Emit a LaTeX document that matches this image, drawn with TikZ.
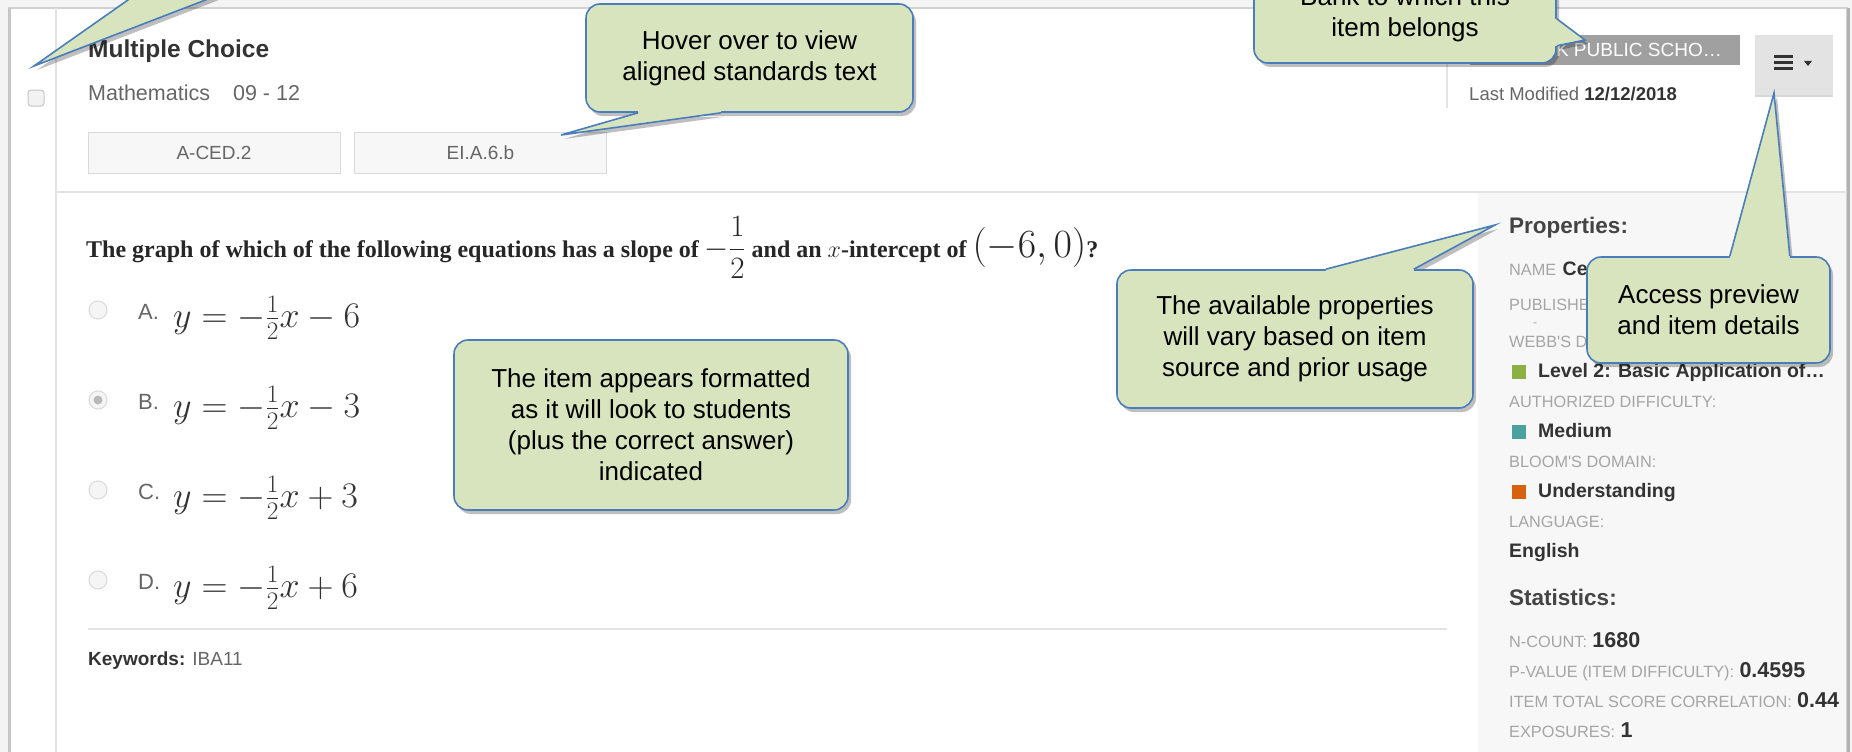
\RequirePackage{fix-cm}
\documentclass[tikz,border=0pt]{standalone}
\usepackage[no-math]{fontspec}
\setmainfont{Liberation Sans}
\newfontfamily\qfont{Liberation Serif}
\usetikzlibrary{calc,shadows}
\pgfdeclarelayer{bubbleshadow}
\pgfdeclarelayer{bubble}
\pgfsetlayers{main,bubbleshadow,bubble}
\definecolor{pagebg}{HTML}{F4F4F4}
\definecolor{panelbg}{HTML}{F7F7F7}
\definecolor{uidark}{HTML}{333333}
\definecolor{uihead}{HTML}{444444}
\definecolor{uigray}{HTML}{666666}
\definecolor{uilabel}{HTML}{A5A5A5}
\definecolor{badgegray}{HTML}{A0A0A0}
\definecolor{calloutfill}{HTML}{D7E4BD}
\definecolor{calloutline}{HTML}{4A7EBB}
\definecolor{dokgreen}{HTML}{8CB043}
\definecolor{dokteal}{HTML}{4AA19E}
\definecolor{dokorange}{HTML}{D6620F}
\begin{document}
\begin{tikzpicture}[x=1pt, y=-1pt,
		ui/.style={inner sep=0pt, anchor=base west, text=uidark},
		rule/.style={draw=gray!22, line width=1.5pt},
		title/.style={ui, font=\bfseries\fontsize{24.5}{28}\selectfont},
		meta/.style={ui, text=uigray, font=\fontsize{21.5}{25}\selectfont},
		tag/.style={draw=gray!30, fill=gray!6, line width=1pt, minimum width=252pt, minimum height=41pt, inner sep=0pt, text=uigray, font=\fontsize{19}{22}\selectfont},
		stemtext/.style={ui, text=black!85, font=\qfont\bfseries\fontsize{24}{28}\selectfont},
		radio/.style={circle, draw=gray!30, fill=gray!8, line width=1pt, minimum size=18pt, inner sep=0pt},
		letter/.style={ui, text=uigray, font=\fontsize{22}{26}\selectfont},
		answer/.style={ui, text=black!80, font=\fontsize{36}{40}\selectfont},
		phead/.style={ui, text=uihead, font=\bfseries\fontsize{22.5}{26}\selectfont},
		plabel/.style={ui, text=uilabel, font=\fontsize{16.3}{20}\selectfont},
		pvalue/.style={ui, font=\bfseries\fontsize{19.5}{23}\selectfont},
		svalue/.style={ui, font=\bfseries\fontsize{21.5}{25}\selectfont},
		swatch/.style={minimum size=14pt, inner sep=0pt},
		bubble/.style={draw=calloutline, fill=calloutfill, line width=1.6pt, rounded corners=14pt, inner sep=0pt, align=center, font=\fontsize{26}{31}\selectfont,
			drop shadow={shadow xshift=3pt, shadow yshift=-4pt, opacity=.25, fill=black}},
		bubble shade/.style={fill=black, opacity=.25, transform canvas={shift={(3pt,-4pt)}}},
		pointer/.style={draw=calloutline, line width=1.6pt, line join=miter}]
	\useasboundingbox (0,0) rectangle (1852,752);
	\fill[pagebg] (0,0) rectangle (1852,752);
	% card
	\draw[draw=gray!35, line width=1.5pt, fill=white] (9,8) rectangle (1847,790);
	\draw[line width=3pt, gray!45] (9.5,8) -- (9.5,752);
	\draw[line width=3pt, gray!60] (1848,8) -- (1848,752);
	\draw[rule] (56,8) -- (56,752);
	\draw[rule] (56,192) -- (1847,192);
	\fill[panelbg] (1478,193) rectangle (1846,752);

	% header
	\node[draw=gray!45, fill=gray!10, line width=1pt, rounded corners=3pt, minimum size=16pt, inner sep=0pt] (check) at (36,98) {};
	\node[title] (kind) at (88,58) {Multiple Choice};
	\node[meta] (subject) at (88,100) {Mathematics\hspace{23pt}09 - 12};
	\node[tag] (ced) at (214,152.5) {A-CED.2};
	\node[tag] (eia) at (480.5,152.5) {EI.A.6.b};
	\draw[rule] (1447,20) -- (1447,108);
	\node[fill=badgegray, minimum width=270pt, minimum height=30pt, inner sep=0pt] (badge) at (1605,50) {};
	\node[ui, anchor=base east, text=white, font=\fontsize{19}{22}\selectfont] (badgetext) at (1722,57) {K PUBLIC SCHO\ldots};
	\node[ui, text=uigray, font=\fontsize{18.5}{22}\selectfont] (modified) at (1469,100) {Last Modified \textcolor{uidark}{\bfseries 12/12/2018}};
	\node[fill=gray!22, minimum width=78pt, minimum height=60pt, inner sep=0pt,
		drop shadow={shadow xshift=0pt, shadow yshift=-2pt, opacity=.3}] (menu) at (1794,65) {};
	\foreach \y in {57,63,69}
		\draw[line width=3pt, uidark] (1774,\y) -- (1793,\y);
	\fill[uidark] (1804,61) -- (1812,61) -- (1808,66) -- cycle;

	% question
	\node[stemtext] (stem) at (86,257) {The graph of which of the following equations has a slope of {\fontsize{31}{33}\selectfont$-\displaystyle\frac{1}{2}$} and an $x$-intercept of {\fontsize{40}{42}\selectfont$(-6,0)$}?};
	\foreach \y/\l/\s/\c in {327/A/-/6, 417/B/-/3, 507/C/+/3, 597/D/+/6} {
		\node[radio] (radio\l) at (98,\y-17) {};
		\node[letter] (letter\l) at (138,\y-8) {\l.};
		\node[answer] (answer\l) at (173,\y) {$y=-\frac{1}{2}x\s\c$};
	}
	\fill[gray!55] (radioB) circle (4.5);
	\draw[rule] (88,629) -- (1447,629);
	\node[ui, font=\fontsize{19}{22}\selectfont] (keywords) at (88,665) {\textbf{Keywords:} \textcolor{uigray}{IBA11}};

	% properties panel
	\begin{scope}
		\clip (1478,193) rectangle (1845,752);
		\node[phead] (propshead) at (1509,233) {Properties:};
		\foreach \y/\t in {275/NAME, 310/PUBLISHE, 347/WEBB\textquotesingle S D, 407/AUTHORIZED DIFFICULTY:, 467/BLOOM\textquotesingle S DOMAIN:, 527/LANGUAGE:}
			\node[plabel] (label\y) at (1509,\y) {\t};
		\node[pvalue] (nameval) at ([xshift=6pt]label275.base east) {Ce};
		\node[plabel, font=\fontsize{12}{14}\selectfont] (pubval) at (1533,326) {-};
		\foreach \y/\c/\t in {377/dokgreen/Level 2: Basic Application of\ldots, 437/dokteal/Medium, 497/dokorange/Understanding} {
			\node[swatch, fill=\c] (swatch\y) at (1519,\y-5) {};
			\node[pvalue] (value\y) at (1538,\y) {\t};
		}
		\node[pvalue] (english) at (1509,557) {English};
		\node[phead] (statshead) at (1509,605) {Statistics:};
		\foreach \y/\t/\v in {647/N-COUNT:/1680, 677/P-VALUE (ITEM DIFFICULTY):/0.4595, 707/ITEM TOTAL SCORE CORRELATION:/0.44, 737/EXPOSURES:/1} {
			\node[plabel] (stat\y) at (1509,\y) {\t};
			\node[svalue] (statval\y) at ([xshift=5pt]stat\y.base east) {\v};
		}
	\end{scope}

	% callouts
	\begin{pgfonlayer}{bubble}
		\node[bubble, minimum width=340pt, minimum height=112pt] (corner) at (230,-64) {};
		\node[bubble, minimum width=327pt, minimum height=108pt] (hover) at (749.5,58) {Hover over to view\\aligned standards text};
		\node[bubble, minimum width=302pt, minimum height=98pt] (bank) at (1405,14) {Bank to which this\\item belongs};
		\node[bubble, minimum width=394pt, minimum height=170pt] (item) at (651,425) {The item appears formatted\\as it will look to students\\(plus the correct answer)\\indicated};
		\node[bubble, minimum width=356pt, minimum height=138pt] (props) at (1295,339) {The available properties\\will vary based on item\\source and prior usage};
		\node[bubble, minimum width=243pt, minimum height=106pt] (access) at (1708.5,310) {Access preview\\and item details};
	\end{pgfonlayer}
	\coordinate (corner-a) at ([xshift=79pt]corner.south west);
	\coordinate (corner-b) at ([xshift=165pt]corner.south west);
	\coordinate (corner-tip) at (34,66);
	\coordinate (hover-a) at ([xshift=53pt]hover.south west);
	\coordinate (hover-b) at ([xshift=136pt]hover.south west);
	\coordinate (hover-tip) at (561,135);
	\coordinate (bank-a) at ([yshift=18pt]bank.south east);
	\coordinate (bank-b) at ([yshift=45pt]bank.south east);
	\coordinate (bank-tip) at (1585,40);
	\coordinate (props-a) at ([xshift=-60pt]props.north east);
	\coordinate (props-b) at ([xshift=-148pt]props.north east);
	\coordinate (props-tip) at (1495,225);
	\coordinate (access-a) at ([xshift=-41pt]access.north east);
	\coordinate (access-b) at ([xshift=-101pt]access.north east);
	\coordinate (access-tip) at (1774,93);
	\begin{pgfonlayer}{bubbleshadow}
		\foreach \n in {corner,hover,bank,props,access}
			\fill[bubble shade] (\n-a) -- (\n-tip) -- (\n-b) -- cycle;
	\end{pgfonlayer}
	\begin{pgfonlayer}{bubble}
		\foreach \n in {corner,hover,bank,props,access} {
			\fill[calloutfill] ($(\n-a)!2pt!90:(\n-b)$) -- (\n-a) -- (\n-tip) -- (\n-b) -- ($(\n-b)!2pt!-90:(\n-a)$) -- cycle;
			\draw[pointer] (\n-a) -- (\n-tip) -- (\n-b);
		}
	\end{pgfonlayer}
\end{tikzpicture}
\end{document}
